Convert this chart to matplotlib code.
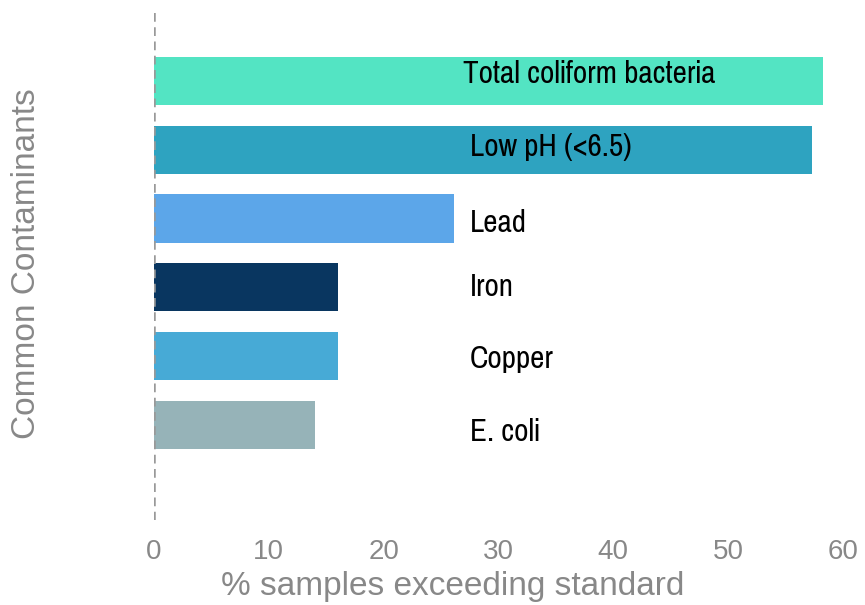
import matplotlib
matplotlib.use("Agg")
import matplotlib.pyplot as plt

categories = ["Total coliform bacteria", "Low pH (<6.5)", "Lead", "Iron", "Copper", "E. coli"]
values = [58.3, 57.3, 26.1, 16.0, 16.0, 14.0]
colors = ["#53E4C3", "#2EA3C0", "#5CA6E9", "#093660", "#47AAD6", "#96B3B8"]
xticks = [0, 10, 20, 30, 40, 50, 60]

W, H = 865, 605
fig = plt.figure(figsize=(W / 100, H / 100), dpi=100)
ax = fig.add_axes([154 / W, 1 - 520 / H, (843 - 154) / W, (520 - 12) / H])

ypos = list(range(len(categories)))
ax.barh(ypos, values, height=0.70, color=colors, zorder=2)

label_dy = [0.025, 0.097, 0.199, 0.126, 0.174, 0.228]
label_dx = [-0.6, 0, 0, 0, 0, 0]
for i, (name, dy, dx) in enumerate(zip(categories, label_dy, label_dx)):
    ax.text(27.5 + dx, i + dy, name, ha="left", va="baseline",
            fontsize=24.5, family="Pragati Narrow", color="black", zorder=3)

ax.set_xlim(0, 60)
ax.set_ylim(6.38, -1.0)
ax.set_xticks(xticks)
ax.set_xticklabels([str(t) for t in xticks], family="Liberation Sans",
                   fontsize=20, color="#888888")
ax.set_yticks([])
ax.tick_params(axis="x", length=0, pad=14)

for s in ("top", "right", "bottom", "left"):
    ax.spines[s].set_visible(False)
ax.axvline(0, color="#999999", lw=1.8, ls=(0, (3.5, 2.2)), zorder=3)

fig.text(453 / W, 1 - 595 / H, "% samples exceeding standard", ha="center",
         va="baseline", family="Liberation Sans", fontsize=24, color="#888888")
fig.text(27 / W, 1 - 264 / H, "Common Contaminants", rotation=90,
         ha="center", va="center", family="Liberation Sans",
         fontsize=24, color="#888888")

fig.savefig("out.png", dpi=100)
